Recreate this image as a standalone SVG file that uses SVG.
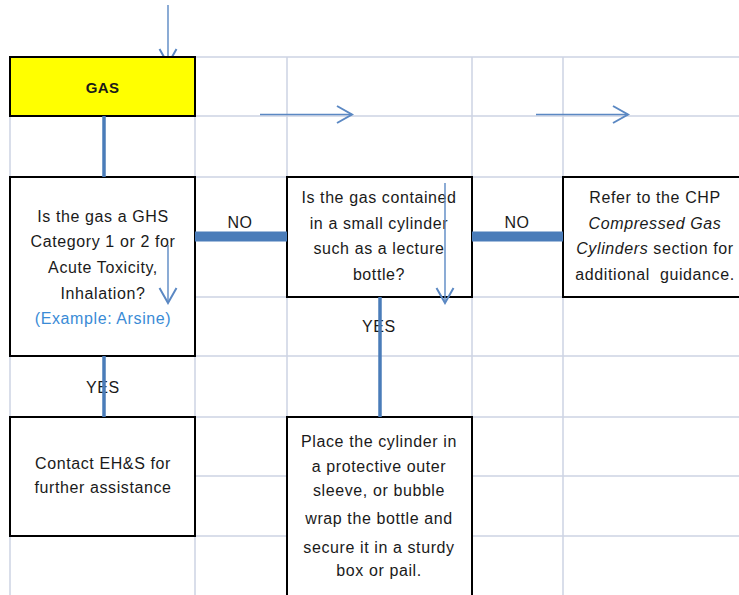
<svg xmlns="http://www.w3.org/2000/svg" width="739" height="595" viewBox="0 0 739 595">
<defs>
<style>
.grid{stroke:#CDD3E4;stroke-width:1.5;fill:none}
.box{fill:#FFFFFF;stroke:#000000;stroke-width:2}
.t{font-family:"Liberation Sans",Arial,sans-serif;font-size:16px;fill:#1a1a1a;text-anchor:middle;letter-spacing:0.6px}
.thin{stroke:#5B88C3;stroke-width:1.4;fill:none}
.bar{stroke:#4A7CB9;fill:none}
</style>
<marker id="chev" markerUnits="userSpaceOnUse" viewBox="-16 -10 18 20" refX="0" refY="0" markerWidth="18" markerHeight="20" orient="auto">
<polyline points="-15,-8.5 0,0 -15,8.5" fill="none" stroke="#5B88C3" stroke-width="2"/>
</marker>
</defs>
<rect width="739" height="595" fill="#FFFFFF"/>
<g id="grid">
<path class="grid" d="M10 57V595M195 57V595M287 57V595M472 57V595M563 57V595"/>
<path class="grid" d="M10 57H739M10 116H739M10 177H739M10 237H739M10 297H739M10 356H739M10 417H739M10 476H739M10 536H739"/>
</g>
<g id="connectors-under">
<line class="thin" x1="168" y1="5" x2="168" y2="64" marker-end="url(#chev)"/>
</g>
<g id="n-gas">
<rect x="10" y="57" width="185" height="59" fill="#FFFF00" stroke="#000" stroke-width="2"/>
<text class="t" x="102.5" y="93" font-weight="bold" style="font-size:15px;letter-spacing:0.3px">GAS</text>
</g>
<g id="n-q1">
<rect class="box" x="10" y="177" width="185" height="179"/>
<text class="t" x="103" y="222">Is the gas a GHS</text>
<text class="t" x="103" y="247">Category 1 or 2 for</text>
<text class="t" x="103" y="273">Acute Toxicity,</text>
<text class="t" x="103" y="299">Inhalation?</text>
<text class="t" x="103" y="324" style="fill:#3A8BD6">(Example: Arsine)</text>
</g>
<g id="n-q2">
<rect class="box" x="287" y="177" width="185" height="120"/>
<text class="t" x="379" y="203">Is the gas contained</text>
<text class="t" x="379" y="229">in a small cylinder</text>
<text class="t" x="379" y="254">such as a lecture</text>
<text class="t" x="379" y="280">bottle?</text>
</g>
<g id="n-refer">
<rect class="box" x="563" y="177" width="185" height="120"/>
<text class="t" x="655" y="203">Refer to the CHP</text>
<text class="t" x="655" y="229" font-style="italic">Compressed Gas</text>
<text class="t" x="655" y="254"><tspan font-style="italic">Cylinders</tspan> section for</text>
<text class="t" x="655" y="280" xml:space="preserve">additional  guidance.</text>
</g>
<g id="n-contact">
<rect class="box" x="10" y="417" width="185" height="119"/>
<text class="t" x="103" y="469">Contact EH&amp;S for</text>
<text class="t" x="103" y="493">further assistance</text>
</g>
<g id="n-place">
<rect class="box" x="287" y="417" width="185" height="190"/>
<text class="t" x="379" y="447">Place the cylinder in</text>
<text class="t" x="379" y="472">a protective outer</text>
<text class="t" x="379" y="496">sleeve, or bubble</text>
<text class="t" x="379" y="524">wrap the bottle and</text>
<text class="t" x="379" y="553">secure it in a sturdy</text>
<text class="t" x="379" y="576">box or pail.</text>
</g>
<g id="labels">
<text class="t" x="240" y="228">NO</text>
<text class="t" x="517" y="228">NO</text>
<text class="t" x="103" y="393">YES</text>
<text class="t" x="379" y="332">YES</text>
</g>
<g id="connectors">
<line class="bar" x1="104" y1="116" x2="104" y2="177" stroke-width="3.5"/>
<line class="bar" x1="104" y1="356" x2="104" y2="417" stroke-width="3.5"/>
<line class="bar" x1="195" y1="236.5" x2="287" y2="236.5" stroke-width="10"/>
<line class="bar" x1="472" y1="236.5" x2="563" y2="236.5" stroke-width="10"/>
<line class="bar" x1="380" y1="297" x2="380" y2="417" stroke-width="3.5"/>
<line class="thin" x1="260" y1="114.5" x2="352" y2="114.5" marker-end="url(#chev)"/>
<line class="thin" x1="536" y1="114.5" x2="628" y2="114.5" marker-end="url(#chev)"/>
<line class="thin" x1="168" y1="245" x2="168" y2="303" marker-end="url(#chev)"/>
<line class="thin" x1="445" y1="183" x2="445" y2="303" marker-end="url(#chev)"/>
</g>
</svg>
